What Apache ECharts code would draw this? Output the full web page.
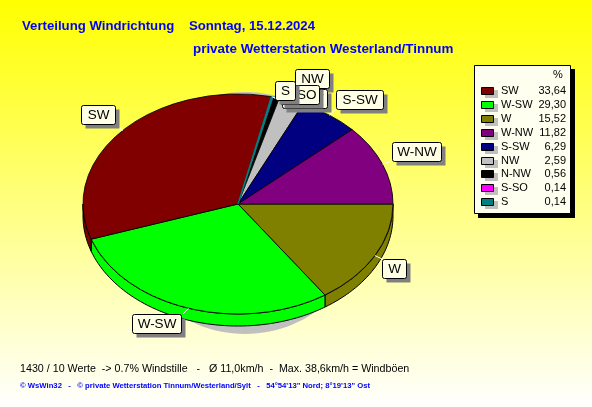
<!DOCTYPE html>
<html><head><meta charset="utf-8">
<style>html,body{margin:0;padding:0}#c{width:592px;height:407px}</style>
<script src="https://cdn.jsdelivr.net/npm/echarts@6/dist/echarts.min.js"></script>
</head><body><div id="c"></div>
<script>
// data: drawing order, clockwise from 3 o'clock
const pieNames = ['W','W-SW','SW','S','S-SO','N-NW','NW','S-SW','W-NW'];
const pieValues = [15.52,29.30,33.64,0.14,0.14,0.56,2.59,6.29,11.82];
const pieColors = ['#808000','#00ff00','#800000','#008080','#ff00ff','#000000','#c0c0c0','#000080','#800080'];
// legend order
const legendNames = ['SW','W-SW','W','W-NW','S-SW','NW','N-NW','S-SO','S'];
const legendLabels = ['33,64','29,30','15,52','11,82','6,29','2,59','0,56','0,14','0,14'];
const titleLine1 = 'Verteilung Windrichtung    Sonntag, 15.12.2024';
const titleLine2 = 'private Wetterstation Westerland/Tinnum';
const footerLine1 = '1430 / 10 Werte  -> 0.7% Windstille   -   Ø 11,0km/h  -  Max. 38,6km/h = Windböen';
const footerLine2 = '© WsWin32   -   © private Wetterstation Tinnum/Westerland/Sylt   -   54°54\'13" Nord; 8°19\'13" Ost';

// layout
const P = {cx:238, cy:204, rx:155, ry:110, depth:12};
const boxes = {
  'SW':[81,105,34,19,115,124], 'W-SW':[132,314,49,19,183,314], 'W':[382,259,24,19,382,259],
  'W-NW':[392,142,49,19,392,161], 'S-SW':[336,90,47,19,336,109], 'NW':[295,69,34,19,310,88],
  'N-NW':[282,89,45,19,300,108], 'S-SO':[280,85,39,19,290,104], 'S':[275,81,20,19,278,100]
};
const total = pieValues.reduce((a,b)=>a+b,0);
const starts = []; let acc = 0;
pieValues.forEach(v=>{starts.push(acc/total*2*Math.PI); acc+=v;});
const sliceOf = i=>[starts[i], starts[i]+pieValues[i]/total*2*Math.PI];
const font = '"Liberation Sans", Arial, sans-serif';

function wallItem(params){
  const i=params.dataIndex, [a0,a1]=sliceOf(i);
  const s=a0, e=Math.min(a1,Math.PI);
  if(s>=Math.PI) return {type:'group',children:[]};
  const pts=[]; const n=Math.max(2,Math.ceil((e-s)/0.03));
  for(let k=0;k<=n;k++){const t=s+(e-s)*k/n; pts.push([P.cx+P.rx*Math.cos(t),P.cy+P.ry*Math.sin(t)]);}
  for(let k=n;k>=0;k--){const t=s+(e-s)*k/n; pts.push([P.cx+P.rx*Math.cos(t),P.cy+P.depth+P.ry*Math.sin(t)]);}
  return {type:'polygon',shape:{points:pts},style:{fill:pieColors[i],stroke:'#000',lineWidth:1}};
}
function topItem(params){
  const i=params.dataIndex, [a0,a1]=sliceOf(i);
  const isS=pieNames[i]==='S';
  return {type:'sector',x:P.cx,y:P.cy,scaleX:1,scaleY:P.ry/P.rx,z2:isS?5:0,
    shape:{cx:0,cy:0,r0:0,r:P.rx,startAngle:a0,endAngle:a1,clockwise:true},
    style:{fill:pieColors[i],stroke:isS?pieColors[i]:'#000',lineWidth:isS?1.5:1,strokeNoScale:true}};
}
function shadowItem(params){
  return params.dataIndex===0 ? {type:'ellipse',shape:{cx:245,cy:213,rx:122,ry:121},style:{fill:'#c0c0c0'}} : {type:'group',children:[]};
}

const graphics=[];
const addText=(x,y,text,size,color,weight,align)=>graphics.push({type:'text',x,y,z:30,style:{text,font:(weight||'normal')+' '+size+'px '+font,fill:color,textAlign:align||'left',textVerticalAlign:'middle'}});
addText(22,26,titleLine1,13.2,'#0000ff','bold');
addText(193,49,titleLine2,13.4,'#0000ff','bold');
addText(20,369,footerLine1,10.7,'#000');
addText(20,386,footerLine2,7.7,'#0000ff','bold');

// leader lines + label boxes
legendNames.slice().forEach((name,order)=>{
  const b=boxes[name], i=pieNames.indexOf(name), [a0,a1]=sliceOf(i), m=(a0+a1)/2;
  const z=10+order*2;
  graphics.push({type:'line',z,shape:{x1:P.cx+P.rx*Math.cos(m),y1:P.cy+P.ry*Math.sin(m),x2:b[4],y2:b[5]},style:{stroke:'#fff',lineWidth:1}});
  graphics.push({type:'rect',z,shape:{x:b[0]+4.5,y:b[1]+4.5,width:b[2],height:b[3]},style:{fill:'#808080'}});
  graphics.push({type:'rect',z:z+1,shape:{x:b[0]+.5,y:b[1]+.5,width:b[2],height:b[3],r:2},style:{fill:'#ffffe6',stroke:'#000',lineWidth:1}});
  graphics.push({type:'text',z:z+1,x:b[0]+b[2]/2+.5,y:b[1]+b[3]/2+1,style:{text:name,font:'13.5px '+font,fill:'#000',textAlign:'center',textVerticalAlign:'middle'}});
});

// legend table
graphics.push({type:'rect',z:40,shape:{x:478,y:69,width:97,height:149},style:{fill:'#000'}});
graphics.push({type:'rect',z:41,shape:{x:474.5,y:65.5,width:96,height:148},style:{fill:'#fffff0',stroke:'#000',lineWidth:1}});
graphics.push({type:'text',z:42,x:553,y:75,style:{text:'%',font:'11px '+font,fill:'#000',textVerticalAlign:'middle'}});
legendNames.forEach((name,r)=>{
  const y=91+r*13.9, i=pieNames.indexOf(name);
  graphics.push({type:'rect',z:42,shape:{x:485,y:Math.round(y)-1,width:13,height:8},style:{fill:'#c0c0c0'}});
  graphics.push({type:'rect',z:43,shape:{x:481.5,y:Math.round(y)-3.5,width:12,height:7},style:{fill:pieColors[i],stroke:'#000',lineWidth:1}});
  graphics.push({type:'text',z:43,x:501,y:Math.round(y),style:{text:name,font:'11px '+font,fill:'#000',textVerticalAlign:'middle'}});
  graphics.push({type:'text',z:43,x:566,y:Math.round(y),style:{text:legendLabels[r],font:'11px '+font,fill:'#000',textAlign:'right',textVerticalAlign:'middle'}});
});

const chart=echarts.init(document.getElementById('c'),null,{renderer:'canvas'});
chart.setOption({
  animation:false,
  backgroundColor:{type:'linear',x:0,y:0,x2:0,y2:1,colorStops:[{offset:0,color:'#ffff00'},{offset:1,color:'#ffffff'}]},
  graphic:{elements:graphics},
  series:[
    {type:'custom',coordinateSystem:'none',name:'shadow',z:1,data:pieValues,renderItem:shadowItem,silent:true},
    {type:'custom',coordinateSystem:'none',name:'wall',z:2,data:pieValues,renderItem:wallItem,silent:true},
    {type:'custom',coordinateSystem:'none',name:'Windrichtung',z:3,data:pieValues,renderItem:topItem,silent:true}
  ]
});
</script></body></html>
